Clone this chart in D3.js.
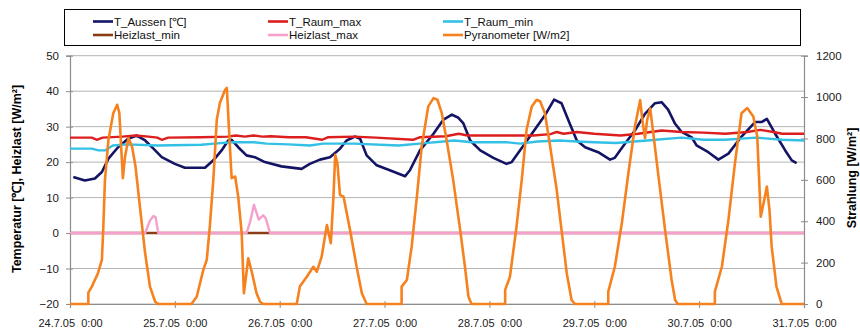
<!DOCTYPE html>
<html><head><meta charset="utf-8">
<script src="https://cdn.jsdelivr.net/npm/d3@7"></script>
<style>
body{margin:0;background:#fff;}
svg{display:block;font-family:"Liberation Sans",Arial,sans-serif;}
</style></head>
<body><svg id="chart" width="860" height="328"></svg>
<script>
// ---- data: [hour since 24.7.05 0:00, value] ----
const xTickLabels = ["24.7.05  0:00","25.7.05  0:00","26.7.05  0:00","27.7.05  0:00","28.7.05  0:00","29.7.05  0:00","30.7.05  0:00","31.7.05  0:00"];
const leftTicks = [-20,-10,0,10,20,30,40,50];
const rightTicks = [0,200,400,600,800,1000,1200];

const tAussen = [[0.75,15.8],[3.4,14.8],[5.7,15.4],[7.3,17.2],[8.8,21],[11,24.2],[13.3,26.6],[15.3,27.5],[17.2,26.1],[19.1,23.8],[21,21.4],[24,19.5],[26.3,18.4],[30.9,18.4],[32.8,20.5],[34.7,23.3],[36.2,26.1],[37,26.3],[38.5,24.2],[40.4,21.9],[42.3,21.4],[44.6,20],[48.4,18.8],[53,18.1],[54.9,19.5],[57.2,20.7],[59.5,21.4],[61.8,23.8],[63.3,26.1],[65.2,27.2],[66.4,26.6],[67.9,21.9],[70.2,19.1],[73.2,17.7],[76.7,16],[77.8,17.7],[80.1,23.3],[83.2,28],[85.4,31.9],[87.4,33.4],[88.9,32.5],[90,31],[91.6,26.1],[93.9,23.3],[96.9,21.2],[99.9,19.5],[101.1,20],[103.8,24.7],[106.8,29.9],[108.7,33.2],[110.8,37.6],[112.5,36.6],[114.4,30.8],[116,26.1],[117.9,24.2],[120.9,22.8],[123.6,20.7],[124.7,21.2],[127,25.2],[129.3,28.9],[131.6,33.6],[133.9,36.6],[135.4,36.9],[136.9,34.8],[138.5,30.8],[140,28.5],[142.3,27],[143.4,24.7],[146.1,22.8],[148.4,20.7],[150.7,22.4],[153.7,27.2],[156.8,31.3],[158.3,31.3],[159.5,32.2],[161.4,28],[163.7,23.3],[165.2,20.5],[166.3,19.7]];

const tRaumMax = [[0,26.9],[5,26.9],[6.1,26.3],[7.5,26.9],[12,27.2],[15,27.5],[18,27.2],[20,26.9],[21,26.3],[22.5,26.9],[30,27],[36,27.2],[38,27.5],[40,27.2],[42,27.5],[44,27.2],[46,27.3],[50,27],[54,27],[57.7,26.3],[59,27],[65,27.2],[70,26.9],[78.5,26.3],[80,27],[86,27.3],[89,28],[91,27.5],[100,27.5],[106,27.5],[110,27.9],[111.4,28.5],[113,28],[116,28.5],[120,28],[126,27.5],[130,28],[135.4,28.9],[140,28.5],[145,28.3],[150,28],[155,28.5],[158,29.1],[161,28.5],[163,28],[168,28]];

const tRaumMin = [[0,23.8],[5,23.8],[6.5,23.3],[8,23.3],[9.8,24.7],[13,25],[20,24.7],[30,24.9],[33,25.2],[37,25.6],[42,25.6],[45,25.2],[50,25],[54.9,24.7],[58,25.2],[65,25.2],[75.2,24.7],[80,25.2],[88,26.1],[92,25.6],[100,25.6],[103,25.2],[107,25.8],[112,26.1],[116,25.8],[120,25.6],[125,25.4],[132,26.1],[140,26.9],[145,26.3],[150,26.3],[157,26.9],[163,26.3],[168,26.1]];

const heizlastMin = [[0,0],[17.2,0],[20.2,0],[40.4,0],[45.8,0],[168,0]];

const heizlastMax = [[0,0],[17.2,0],[18.3,3.5],[19.1,4.8],[19.6,4.5],[20.2,0],[40.4,0],[41.2,3],[42.1,8],[43.2,3.8],[44.2,5],[44.8,4.2],[45.8,0],[168,0]];

const pyranometer = [[0,0],[4.2,0],[4.2,55],[5,84],[6.4,149],[7.3,213],[7.6,358],[8,600],[8.8,793],[9.9,922],[10.8,963],[11.3,922],[11.7,761],[12.1,608],[12.6,713],[13.4,802],[14.2,761],[15,664],[16,471],[17.2,245],[18.3,84],[19.5,11],[20.2,0],
[27.8,0],[29,35],[30.5,164],[31.3,213],[32,374],[32.8,600],[33.6,890],[34.3,971],[35.5,1035],[35.9,1044],[36.2,922],[36.6,761],[37,608],[37.8,616],[38.5,519],[39.3,342],[39.8,52],[40.8,221],[41.6,156],[42.7,52],[43.5,11],[44.2,0],
[51.9,0],[52.6,84],[54.2,132],[55.7,180],[56.5,156],[57.6,229],[58.8,382],[59.7,294],[60.3,519],[60.7,721],[61.2,681],[61.8,527],[62.6,519],[64.1,358],[65.6,180],[66.8,52],[67.9,0],
[75.9,0],[75.9,84],[77.1,116],[78.2,277],[79.4,519],[80.5,761],[82,955],[83.2,995],[84.1,987],[85.1,922],[86.2,793],[87.7,600],[89.3,358],[90.4,180],[91.2,35],[91.9,0],
[99.6,0],[99.6,68],[100.7,132],[102.2,374],[103.4,600],[104.5,842],[105.7,955],[106.8,987],[107.6,980],[108.7,922],[109.9,761],[111.4,552],[112.5,358],[113.7,149],[114.8,19],[115.6,0],
[123.2,0],[123.2,60],[124.7,180],[126.3,390],[127.8,632],[129.3,858],[130.5,985],[131.1,874],[131.6,802],[132.1,890],[132.8,945],[133.5,826],[134.7,616],[136.2,358],[137.7,116],[138.5,19],[139.1,0],
[147.6,0],[147.6,60],[149.2,180],[150.7,406],[152.2,681],[153.7,922],[155,947],[156.4,906],[157.3,810],[158.1,422],[158.9,503],[159.5,568],[160.1,455],[160.6,277],[161.7,84],[162.9,0],[168,0]];

const legendItems = [
  {name:"T_Aussen [℃]", color:"#141464"},
  {name:"T_Raum_max", color:"#dc1e1e"},
  {name:"T_Raum_min", color:"#33c0e6"},
  {name:"Heizlast_min", color:"#8c3c14"},
  {name:"Heizlast_max", color:"#f5a0cd"},
  {name:"Pyranometer [W/m2]", color:"#f5821e"}
];

// ---- chart ----
const svg = d3.select("#chart");
const m = {l:70, r:804, t:55.7, b:304};
const x = d3.scaleLinear().domain([0,168]).range([m.l, m.r]);
const yL = d3.scaleLinear().domain([-20,50]).range([m.b, m.t]);
const yR = d3.scaleLinear().domain([0,1200]).range([m.b, m.t]);

// gridlines
svg.append("g").selectAll("line").data(leftTicks).join("line")
  .attr("x1", m.l).attr("x2", m.r)
  .attr("y1", d=>yL(d)).attr("y2", d=>yL(d))
  .attr("stroke", "#b4b4b4").attr("stroke-width", 1);

// left axis
const gL = svg.append("g").attr("transform", `translate(${m.l},0)`)
  .call(d3.axisLeft(yL).tickValues(leftTicks).tickFormat(d3.format("d")).tickSize(4).tickPadding(7));
// right axis
const gR = svg.append("g").attr("transform", `translate(${m.r},0)`)
  .call(d3.axisRight(yR).tickValues(rightTicks).tickFormat(d3.format("d")).tickSize(4).tickPadding(8));
// bottom axis
const gB = svg.append("g").attr("transform", `translate(0,${m.b})`)
  .call(d3.axisBottom(x).tickValues(d3.range(xTickLabels.length).map(i=>i*24))
    .tickFormat((d,i)=>xTickLabels[i]).tickSize(4).tickPadding(11));

[gL,gR,gB].forEach(g=>{
  g.select(".domain").attr("stroke","#8c8c8c").attr("stroke-width",1.2);
  g.selectAll(".tick line").attr("stroke","#8c8c8c");
  g.selectAll("text").attr("fill","#1a1a1a").style("font-size","11.5px").style("font-family","Liberation Sans, Arial, sans-serif");
});
gL.selectAll(".tick line").attr("x1",3);
gR.selectAll(".tick line").attr("x1",-3);
gB.selectAll(".tick line").attr("y1",-3);
gB.selectAll("text").style("font-size","11px").attr("xml:space","preserve").style("white-space","pre");

// lines
const lineL = d3.line().x(d=>x(d[0])).y(d=>yL(d[1]));
const lineR = d3.line().x(d=>x(d[0])).y(d=>yR(d[1]));
const series = [
  {data:tAussen, line:lineL, c:legendItems[0].color, w:2.6},
  {data:tRaumMax, line:lineL, c:legendItems[1].color, w:2.4},
  {data:tRaumMin, line:lineL, c:legendItems[2].color, w:2.4},
  {data:heizlastMin, line:lineL, c:legendItems[3].color, w:2.4},
  {data:heizlastMax, line:lineL, c:legendItems[4].color, w:2.4},
  {data:pyranometer, line:lineR, c:legendItems[5].color, w:2.6}
];
svg.append("g").selectAll("path").data(series).join("path")
  .attr("d", s=>s.line(s.data)).attr("fill","none")
  .attr("stroke", s=>s.c).attr("stroke-width", s=>s.w)
  .attr("stroke-linejoin","round");

// axis titles
svg.append("text").attr("transform","translate(21,179) rotate(-90)")
  .attr("text-anchor","middle").style("font-size","12.5px").style("font-weight","bold")
  .text("Temperatur [℃], Heizlast [W/m²]");
svg.append("text").attr("transform","translate(856,178) rotate(-90)")
  .attr("text-anchor","middle").style("font-size","12.5px").style("font-weight","bold")
  .text("Strahlung [W/m²]");

// legend
svg.append("rect").attr("x",64.5).attr("y",9.5).attr("width",736).attr("height",36)
  .attr("fill","#fff").attr("stroke","#000").attr("stroke-width",1);
const colX = [93, 268, 443], rowY = [21.5, 35];
const lg = svg.append("g").selectAll("g").data(legendItems).join("g")
  .attr("transform",(d,i)=>`translate(${colX[i%3]},${rowY[Math.floor(i/3)]})`);
lg.append("line").attr("x1",0).attr("x2",20).attr("stroke",d=>d.color).attr("stroke-width",2.6);
lg.append("text").attr("x",21).attr("y",4).style("font-size","11.5px").attr("fill","#111")
  .text(d=>d.name);
</script></body></html>
